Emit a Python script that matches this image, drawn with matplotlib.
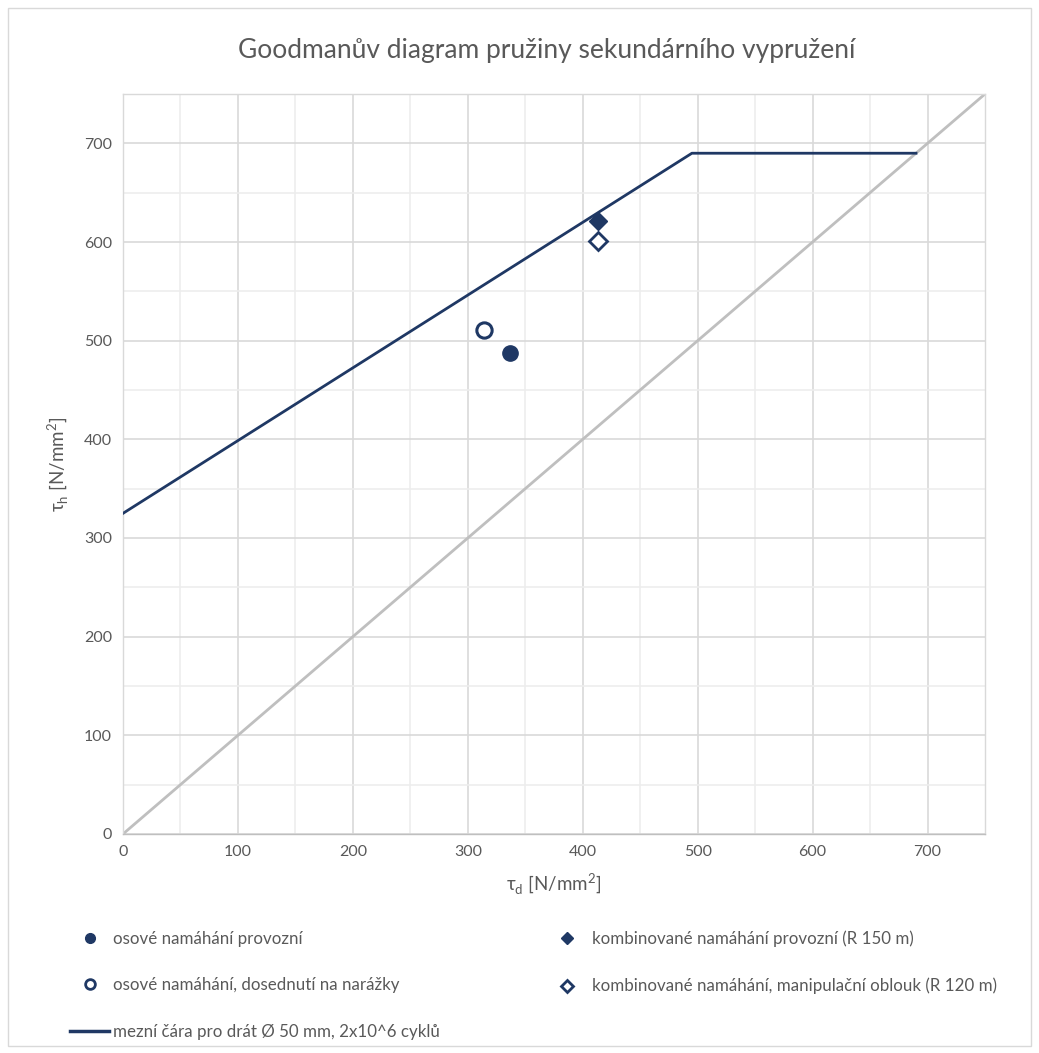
import matplotlib
matplotlib.use("Agg")
import matplotlib.pyplot as plt
from matplotlib.lines import Line2D
from matplotlib.patches import Rectangle

plt.rcParams['font.family'] = ['Lato', 'DejaVu Sans']

# data
limit_x = [0, 495, 690]
limit_y = [325, 690, 690]
diag_x = [0, 750]
diag_y = [0, 750]
pt_osove_prov = (337, 488)
pt_osove_dosed = (314, 511)
pt_komb_prov = (413, 621)
pt_komb_manip = (413, 601)
xticks = [0, 100, 200, 300, 400, 500, 600, 700]
yticks = [0, 100, 200, 300, 400, 500, 600, 700]

navy = '#1F3864'
gray_txt = '#595959'

fig = plt.figure(figsize=(10.39, 10.53), dpi=100)
fig.patches.append(Rectangle((0.008, 0.007), 0.984, 0.985, transform=fig.transFigure,
                             fill=False, edgecolor='#D9D9D9', lw=1))
ax = fig.add_axes([0.1184, 0.208, 0.8296, 0.7027])

ax.set_xlim(0, 750)
ax.set_ylim(0, 750)
ax.set_xticks(xticks)
ax.set_yticks(yticks)
ax.set_xticks(range(50, 750, 100), minor=True)
ax.set_yticks(range(50, 750, 100), minor=True)
ax.grid(True, which='major', color='#D9D9D9', lw=1.2)
ax.grid(True, which='minor', color='#EDEDED', lw=1.2)
ax.set_axisbelow(True)
for s in ax.spines.values():
    s.set_color('#D9D9D9')
    s.set_linewidth(1)
ax.spines['bottom'].set_color('#BFBFBF')
ax.tick_params(which='both', length=0, labelsize=11.5, labelcolor=gray_txt, pad=8)

ax.plot(diag_x, diag_y, color='#BFBFBF', lw=2, zorder=2)
ax.plot(limit_x, limit_y, color=navy, lw=2, zorder=3,
        label='mezní čára pro drát Ø 50 mm, 2x10^6 cyklů')
ms = 11
ax.plot(*pt_osove_prov, 'o', color=navy, ms=ms, zorder=4, label='osové namáhání provozní')
ax.plot(*pt_osove_dosed, 'o', mfc='white', mec=navy, mew=2.2, ms=ms, zorder=4,
        label='osové namáhání, dosednutí na narážky')
ax.plot(*pt_komb_prov, 'D', color=navy, ms=9.5, zorder=4,
        label='kombinované namáhání provozní (R 150 m)')
ax.plot(*pt_komb_manip, 'D', mfc='white', mec=navy, mew=2.0, ms=9.5, zorder=4,
        label='kombinované namáhání, manipulační oblouk (R 120 m)')

ax.set_xlabel('τ$_\\mathregular{d}$ [N/mm$^\\mathregular{2}$]', fontsize=13.5, color=gray_txt, labelpad=9)
ax.set_ylabel('τ$_\\mathregular{h}$ [N/mm$^\\mathregular{2}$]', fontsize=13.5, color=gray_txt, labelpad=10)
fig.text(0.526, 0.952, 'Goodmanův diagram pružiny sekundárního vypružení',
         ha='center', va='center', fontsize=19, color=gray_txt)

h1 = [Line2D([], [], ls='none', marker='o', color=navy, ms=7),
      Line2D([], [], ls='none', marker='o', mfc='white', mec=navy, mew=2, ms=7),
      Line2D([], [], color=navy, lw=2.5)]
l1 = ['osové namáhání provozní', 'osové namáhání, dosednutí na narážky',
      'mezní čára pro drát Ø 50 mm, 2x10^6 cyklů']
h2 = [Line2D([], [], ls='none', marker='D', color=navy, ms=6),
      Line2D([], [], ls='none', marker='D', mfc='white', mec=navy, mew=2, ms=6)]
l2 = ['kombinované namáhání provozní (R 150 m)',
      'kombinované namáhání, manipulační oblouk (R 120 m)']
leg1 = fig.legend(h1, l1, loc='upper left', bbox_to_anchor=(0.0674, 0.1160), frameon=False,
                  fontsize=12.2, labelcolor=gray_txt, handlelength=2.3, handletextpad=0.25,
                  labelspacing=1.8, borderpad=0, borderaxespad=0)
leg2 = fig.legend(h2, l2, loc='upper left', bbox_to_anchor=(0.527, 0.1160), frameon=False,
                  fontsize=12.2, labelcolor=gray_txt, handlelength=2.3, handletextpad=0.35,
                  labelspacing=1.8, borderpad=0, borderaxespad=0)

fig.savefig('out.png', dpi=100, facecolor='white')
